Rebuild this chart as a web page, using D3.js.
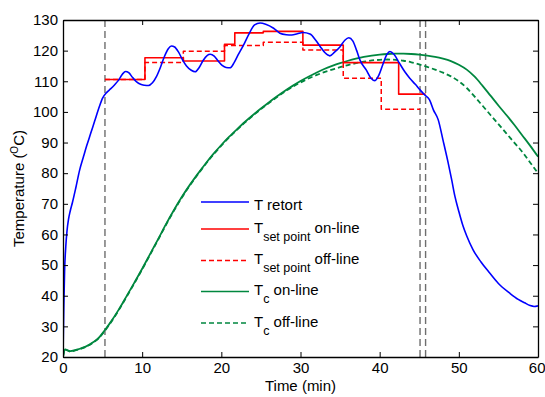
<!DOCTYPE html>
<html>
<head>
<meta charset="utf-8">
<script src="https://cdn.jsdelivr.net/npm/d3@7/dist/d3.min.js"></script>
<style>
	body { margin: 0; background: #fff; }
	text { font-family: "Liberation Sans", Arial, Helvetica, sans-serif; fill: #000; }
</style>
</head>
<body>
<div id="container"></div>
<script>

// retort temperature (time in min, temperature in C)
var retortTime = [0, 0.1, 0.2, 0.35, 0.5, 0.7, 0.9, 1.2, 1.6, 2.1, 2.6, 3, 3.5, 4, 4.5, 5, 5.5, 6, 6.5, 7, 7.5, 7.9, 8.3, 8.8, 9.3, 9.8, 10.3, 10.8, 11.3, 11.8, 12.3, 12.8, 13.3, 13.7, 14.1, 14.6, 15.1, 15.6, 16.2, 16.7, 17.2, 17.7, 18.2, 18.6, 19.1, 19.6, 20.1, 20.6, 21.1, 21.6, 22.1, 22.8, 23.5, 24.2, 24.9, 25.6, 26.6, 27.4, 28.2, 28.9, 29.6, 30.3, 31.2, 31.9, 32.5, 33.1, 33.7, 34.3, 35, 35.6, 36.1, 36.6, 37.1, 37.5, 38.3, 38.9, 39.4, 39.9, 40.4, 40.9, 41.3, 41.8, 42.5, 43.2, 43.8, 44.5, 45.1, 45.7, 46.3, 46.8, 47.4, 48, 48.6, 49.1, 49.5, 50, 50.5, 51, 51.8, 52.8, 53.9, 55, 56.4, 57.5, 58.3, 59, 59.5, 60]
var retortTemp = [20, 36, 48, 56, 61, 65, 67.5, 70.5, 75, 81, 85.5, 89, 93, 97, 101, 104.5, 106.3, 107.5, 108.8, 110.3, 112.3, 113.2, 112.8, 111.2, 109.8, 109, 108.7, 108.6, 109.5, 111.5, 114.5, 118, 120.6, 121.5, 121.2, 119.5, 117, 115, 113.6, 113.1, 114.5, 116.8, 118.4, 118.8, 118.2, 116.6, 115.2, 114.5, 114.4, 116, 118.5, 121.8, 125.5, 128.4, 129, 128.6, 127.3, 125.7, 125.2, 125.1, 125.5, 125.9, 125.4, 123.5, 121.3, 119.3, 118.3, 119.5, 121.3, 123.4, 124.2, 123.2, 120, 117, 113.7, 111, 110.2, 112, 115.5, 118.7, 119.7, 118.8, 115.9, 113, 111, 109, 107.2, 105.5, 103.9, 100.6, 97.4, 90.8, 84, 77.8, 72.5, 67.5, 63, 59.5, 55, 51, 47.4, 44, 40.9, 38.8, 37.7, 36.8, 36.5, 36.7]

// set point steps (value holds until next time)
var setOnTime = [5.3, 10.35, 15.2, 20.4, 21.7, 25.3, 30.3, 35.4, 42.4, 45.8]
var setOnTemp = [110.6, 117.7, 116.6, 122.1, 125.8, 126.3, 121.8, 116.1, 105.8, 105.8]
var setOffTime = [5.3, 10.35, 15.2, 20.4, 25.3, 30.3, 35.4, 40.2, 45.1]
var setOffTemp = [110.6, 116.1, 119.8, 121.7, 122.7, 120.2, 111, 100.9, 100.9]

// cold point temperature
var coldTime = [0, 0.25, 0.9, 2, 2.8, 3.8, 4.5, 5.3, 6, 7, 8, 9, 10, 11, 12, 13, 14, 15, 16, 17, 18, 19, 20, 21, 22, 23, 24, 25, 26, 27, 28, 29, 30, 31, 32, 33, 34, 35, 36, 37, 38, 39, 40, 41, 42, 43, 44, 45, 46, 47, 48, 49, 50, 51, 52, 53, 54, 55, 56, 57, 58, 59, 60]
var coldOn = [20, 22.5, 21.9, 22.6, 23.3, 24.8, 26.2, 28.8, 31.3, 35.3, 39.7, 44.2, 48.8, 53.6, 58.4, 63.3, 67.9, 72.2, 76.1, 79.7, 83.1, 86.3, 89.2, 91.9, 94.4, 96.8, 99, 101.1, 103.1, 105, 106.8, 108.5, 110.1, 111.5, 112.8, 114, 115, 115.9, 116.7, 117.4, 118, 118.4, 118.7, 118.9, 119, 119, 118.9, 118.7, 118.4, 118, 117.4, 116.6, 115.4, 113.8, 111.5, 108.5, 105.3, 102.1, 99, 95.8, 92.4, 89, 85.4]
var coldOff = [20, 22.4, 21.8, 22.5, 23.2, 24.7, 26.1, 28.6, 31.1, 35.1, 39.5, 44, 48.6, 53.4, 58.2, 63.1, 67.7, 72, 75.9, 79.5, 82.9, 86.1, 89, 91.7, 94.2, 96.6, 98.8, 100.9, 102.9, 104.8, 106.6, 108.2, 109.6, 110.9, 112, 113, 113.8, 114.6, 115.3, 115.9, 116.4, 116.8, 117, 117.1, 117, 116.7, 116.2, 115.5, 114.7, 113.8, 112.8, 111.6, 110, 107.8, 105, 102, 99, 96, 93, 90, 87, 83.5, 80]

// switching times (dashed grey lines)
var markTimes = [5.3, 45.1, 45.8]

var xTicks = [0, 10, 20, 30, 40, 50, 60]
var yTicks = [20, 30, 40, 50, 60, 70, 80, 90, 100, 110, 120, 130]

var W = 545, H = 397
var margin = {top: 20, right: 7, bottom: 40, left: 63}
var w = W - margin.left - margin.right
var h = H - margin.top - margin.bottom

var green = "#00873f"

var svg = d3.select("#container")
			.append("svg")
			.attr("width", W)
			.attr("height", H)

var g = svg.append("g")
			.attr("transform", "translate(" + margin.left + "," + margin.top + ")")

var x = d3.scaleLinear().domain([0, 60]).range([0, w])
var y = d3.scaleLinear().domain([20, 130]).range([h, 0])

g.append("clipPath").attr("id", "clip")
	.append("rect").attr("width", w).attr("height", h)

var plot = g.append("g").attr("clip-path", "url(#clip)")

function pairs(ts, vs) {
	return ts.map(function(t, i) { return [t, vs[i]] })
}

var smooth = d3.line()
	.x(function(d) { return x(d[0]) })
	.y(function(d) { return y(d[1]) })
	.curve(d3.curveMonotoneX)

var step = d3.line()
	.x(function(d) { return x(d[0]) })
	.y(function(d) { return y(d[1]) })
	.curve(d3.curveStepAfter)

// vertical dashed lines
plot.selectAll("line.mark").data(markTimes).enter().append("line")
	.attr("class", "mark")
	.attr("x1", function(d) { return x(d) })
	.attr("x2", function(d) { return x(d) })
	.attr("y1", 0).attr("y2", h)
	.attr("stroke", "#6e6e6e")
	.attr("stroke-width", 1.4)
	.attr("stroke-dasharray", "7,4")

var series = [
	{data: pairs(coldTime, coldOff), gen: smooth, color: green, dash: "5,3", width: 1.8},
	{data: pairs(coldTime, coldOn), gen: smooth, color: green, dash: null, width: 1.8},
	{data: pairs(setOffTime, setOffTemp), gen: step, color: "#ff0000", dash: "5,3", width: 1.5},
	{data: pairs(setOnTime, setOnTemp), gen: step, color: "#ff0000", dash: null, width: 1.6},
	{data: pairs(retortTime, retortTemp), gen: smooth, color: "#0000ff", dash: null, width: 1.6}
]

series.forEach(function(s) {
	plot.append("path")
		.attr("d", s.gen(s.data))
		.attr("fill", "none")
		.attr("stroke", s.color)
		.attr("stroke-width", s.width)
		.attr("stroke-dasharray", s.dash)
		.attr("stroke-linejoin", "round")
})

// axes, matlab style box with inward ticks
var tickLen = 5
var xAxisG = g.append("g").attr("transform", "translate(0," + h + ")")
	.call(d3.axisBottom(x).tickValues(xTicks).tickSizeInner(-tickLen).tickSizeOuter(0).tickPadding(5))
g.append("g")
	.call(d3.axisTop(x).tickValues(xTicks).tickSizeInner(-tickLen).tickSizeOuter(0).tickFormat(""))
g.append("g")
	.call(d3.axisLeft(y).tickValues(yTicks).tickSizeInner(-tickLen).tickSizeOuter(0).tickPadding(5))
g.append("g").attr("transform", "translate(" + w + ",0)")
	.call(d3.axisRight(y).tickValues(yTicks).tickSizeInner(-tickLen).tickSizeOuter(0).tickFormat(""))

g.selectAll(".domain").attr("stroke", "#000").attr("stroke-width", 1.3)
g.selectAll(".tick line").attr("stroke", "#000").attr("stroke-width", 1)
g.selectAll(".tick text").style("font-size", "15px").attr("fill", "#000")

// keep the last x label inside the window
xAxisG.selectAll(".tick text").filter(function(d) { return d == 60 })
	.attr("text-anchor", "end").attr("x", 7)

// axis labels
svg.append("text")
	.attr("x", margin.left + w / 2).attr("y", 391)
	.attr("text-anchor", "middle")
	.style("font-size", "15px")
	.text("Time (min)")

var ylab = svg.append("text")
	.attr("transform", "translate(24," + (margin.top + h / 2) + ") rotate(-90)")
	.attr("text-anchor", "middle")
	.style("font-size", "15px")
ylab.append("tspan").text("Temperature (")
ylab.append("tspan").attr("dy", -6).style("font-size", "10px").text("O")
ylab.append("tspan").attr("dy", 6).text("C)")

// legend
var legendRows = [
	{main: "T", sub: "", rest: " retort", color: "#0000ff", dash: null, y: 202},
	{main: "T", sub: "set point", rest: " on-line", color: "#ff0000", dash: null, y: 229},
	{main: "T", sub: "set point", rest: " off-line", color: "#ff0000", dash: "5,3", y: 260.5},
	{main: "T", sub: "c", rest: " on-line", color: green, dash: null, y: 291.5},
	{main: "T", sub: "c", rest: " off-line", color: green, dash: "5,3", y: 323}
]

var leg = svg.append("g")
leg.selectAll("line").data(legendRows).enter().append("line")
	.attr("x1", 201).attr("x2", 249)
	.attr("y1", function(d) { return d.y }).attr("y2", function(d) { return d.y })
	.attr("stroke", function(d) { return d.color })
	.attr("stroke-width", 1.6)
	.attr("stroke-dasharray", function(d) { return d.dash })

legendRows.forEach(function(d) {
	var base = d.sub ? d.y + 3.5 : d.y + 7.5
	var t = leg.append("text")
		.attr("x", 254).attr("y", base)
		.style("font-size", "15px")
	t.append("tspan").text(d.main)
	if (d.sub) {
		t.append("tspan").attr("dy", 8).style("font-size", "12.5px").text(d.sub)
		t.append("tspan").attr("dy", -8).text(d.rest)
	} else {
		t.append("tspan").text(d.rest)
	}
})

</script>
</body>
</html>
